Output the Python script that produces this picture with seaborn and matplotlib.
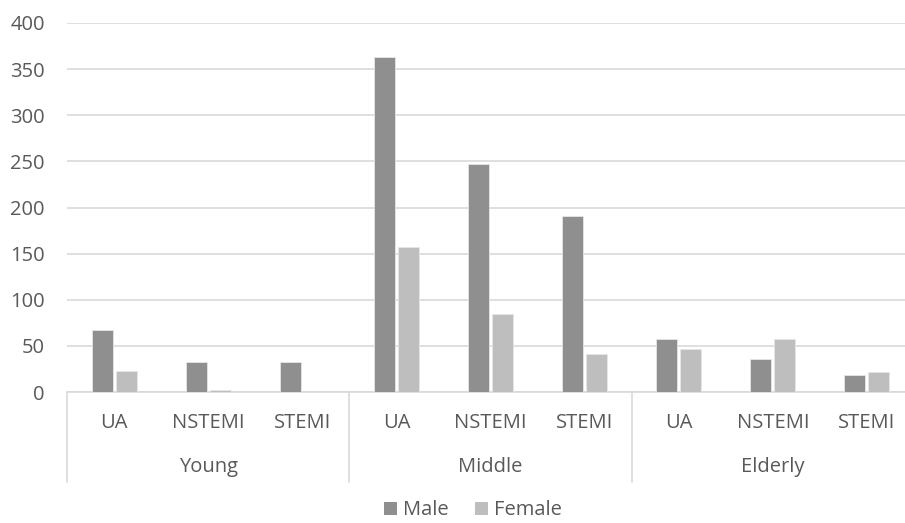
import matplotlib
matplotlib.use("Agg")
import matplotlib.pyplot as plt
import matplotlib.transforms as mtransforms
from matplotlib.patches import Patch
import seaborn as sns
import pandas as pd

# Age groups, infarction types and case counts by sex
groups = ["Young", "Middle", "Elderly"]
types = ["UA", "NSTEMI", "STEMI"]
male = [67, 33, 33, 363, 247, 191, 57, 36, 18]
female = [23, 2, 0, 157, 85, 41, 47, 57, 22]
y_ticks = [0, 50, 100, 150, 200, 250, 300, 350, 400]

cats = [f"{g} {t}" for g in groups for t in types]
df = pd.DataFrame({
    "cat": cats * 2,
    "sex": ["Male"] * len(cats) + ["Female"] * len(cats),
    "count": male + female,
})

sns.set_theme(style="white")
plt.rcParams["font.family"] = ["Open Sans", "DejaVu Sans"]

text_col = "#595959"
grid_col = "#d9d9d9"
fs = 14.5
colors = {"Male": "#8f8f8f", "Female": "#bebebe"}

fig = plt.figure(figsize=(9.05, 5.23), dpi=100)
ax = fig.add_axes([67 / 905, 131 / 523, 847 / 905, 369 / 523])

sns.barplot(data=df, x="cat", y="count", hue="sex", order=cats,
            hue_order=["Male", "Female"], palette=colors, width=0.51,
            gap=0.125, edgecolor="#e6e6e6", linewidth=0.6, legend=False,
            ax=ax, zorder=3)

ax.set_ylim(0, 400)
ax.set_xlim(-0.5, len(cats) - 0.5)
ax.set_yticks(y_ticks)
ax.set_yticklabels([str(v) for v in y_ticks], fontsize=fs, color=text_col)
ax.yaxis.grid(True, color=grid_col, linewidth=1.2, zorder=0)
ax.set_axisbelow(True)
ax.tick_params(axis="y", length=0, pad=16)
ax.set_xlabel("")
ax.set_ylabel("")
for side in ["left", "right", "top"]:
    ax.spines[side].set_visible(False)
ax.spines["bottom"].set_color(grid_col)
ax.spines["bottom"].set_linewidth(1.2)

# Two-level category axis: type labels, then age group labels
ax.set_xticks(range(len(cats)))
ax.set_xticklabels([])
ax.tick_params(axis="x", length=0)

trans = mtransforms.blended_transform_factory(ax.transData, ax.transAxes)
for i, name in enumerate(types * len(groups)):
    ax.text(i, -31 / 369, name, transform=trans, ha="center", va="center",
            fontsize=fs, color=text_col)
for i, g in enumerate(groups):
    center = i * len(types) + 1
    ax.text(center, -75 / 369, g, transform=trans, ha="center", va="center",
            fontsize=fs, color=text_col)
bottom = -90 / 369
for i in range(len(groups)):
    xs = i * len(types) - 0.5
    ax.plot([xs, xs], [0, bottom], transform=trans, color=grid_col,
            linewidth=1.2, clip_on=False)

handles = [Patch(facecolor=colors[k], edgecolor="none", label=k)
           for k in ["Male", "Female"]]
fig.legend(handles=handles, loc="center", bbox_to_anchor=(0.523, 0.024),
           ncol=2, frameon=False, fontsize=fs, labelcolor=text_col,
           handlelength=0.65, handleheight=0.65, handletextpad=0.3,
           columnspacing=1.3, borderpad=0.1)

fig.savefig("out.png", dpi=100)
